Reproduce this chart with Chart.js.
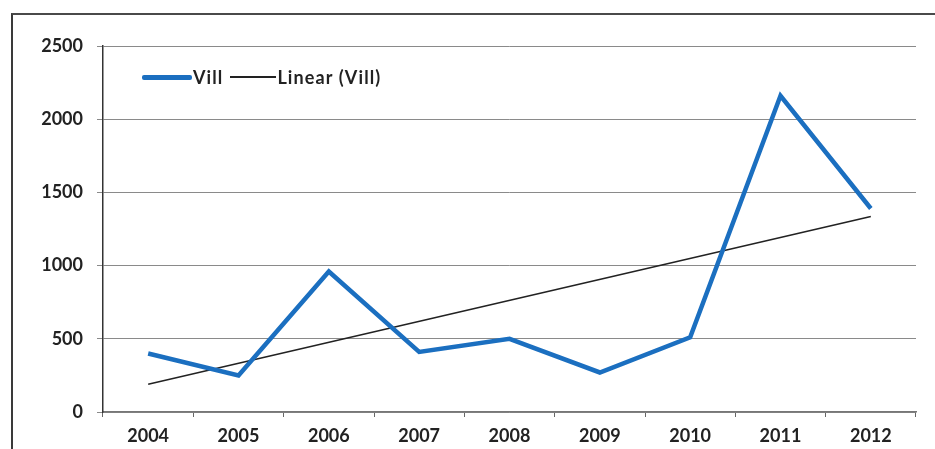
<!DOCTYPE html>
<html>
<head>
<meta charset="utf-8">
<script src="https://cdn.jsdelivr.net/npm/chart.js@4/dist/chart.umd.min.js"></script>
<style>
  html, body { margin: 0; padding: 0; background: #fff; }
  #wrap { position: relative; width: 935px; height: 449px; overflow: hidden; }
  #frame { position: absolute; left: 11px; top: 13px; width: 940px; height: 460px;
           border-left: 2px solid #3a3a3a; border-top: 2px solid #4a4a4a; }
  canvas { position: absolute; left: 0; top: 0; }
  #legend { position: absolute; left: 142px; top: 66px; height: 22px; font-family: Lato, "Noto Sans", sans-serif;
            font-weight: bold; font-size: 18px; letter-spacing: 1.1px; color: #222; display: flex; align-items: center; }
  .sw { display: inline-block; }
</style>
</head>
<body>
<div id="wrap">
  <div id="frame"></div>
  <canvas id="c" width="935" height="449"></canvas>
  <div id="legend">
    <span class="sw" style="width:50px;height:5px;background:#1b6fc0;border-radius:2px;"></span>
    <span style="margin-left:1px;">Vill</span>
    <span class="sw" style="width:46px;height:1.5px;background:#222;margin-left:7px;"></span>
    <span style="margin-left:1px;">Linear (Vill)</span>
  </div>
</div>
<script>
const categories = ['2004','2005','2006','2007','2008','2009','2010','2011','2012'];
const villValues = [400, 250, 960, 410, 500, 270, 510, 2160, 1390];
const trendValues = [190, null, null, null, null, null, null, null, 1335];
const yTicks = [0, 500, 1000, 1500, 2000, 2500];

new Chart(document.getElementById('c'), {
  type: 'line',
  data: {
    labels: categories,
    datasets: [
      { label: 'Vill', data: villValues, borderColor: '#1b6fc0', borderWidth: 4.5,
        pointRadius: 0, tension: 0, borderJoinStyle: 'miter', order: 1 },
      { label: 'Linear (Vill)', data: trendValues, borderColor: '#222', borderWidth: 1.5,
        pointRadius: 0, spanGaps: true, tension: 0, order: 2 }
    ]
  },
  options: {
    responsive: false,
    animation: false,
    layout: { padding: { left: 0, top: 46, right: 19, bottom: 0 } },
    plugins: { legend: { display: false }, tooltip: { enabled: false } },
    scales: {
      x: {
        offset: true,
        grid: { offset: true, drawOnChartArea: false, drawTicks: true, tickLength: 5, color: '#666', lineWidth: 1 },
        border: { display: true, color: '#777', width: 1.5 },
        ticks: { color: '#222', padding: 8, font: { family: 'Lato', weight: 'bold', size: 18 }, maxRotation: 0 },
        afterFit: s => { s.height = 37; }
      },
      y: {
        min: 0, max: 2500,
        afterBuildTicks: s => { s.ticks = yTicks.map(v => ({ value: v })); },
        grid: { color: '#8a8a8a', lineWidth: 1, tickLength: 6, drawTicks: true },
        border: { display: true, color: '#333', width: 1.5 },
        ticks: { color: '#222', padding: 14, font: { family: 'Lato', weight: 'bold', size: 18 },
                 callback: v => String(v) },
        afterFit: s => { s.width = 103; }
      }
    }
  }
});
</script>
</body>
</html>
